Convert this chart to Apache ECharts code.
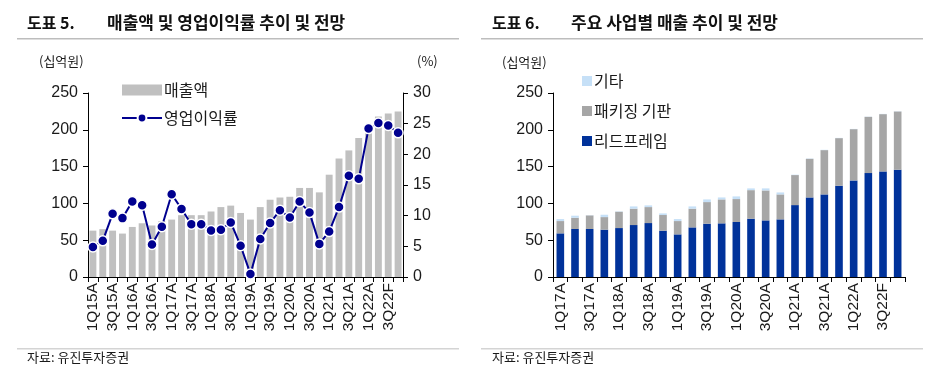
<!DOCTYPE html>
<html><head><meta charset="utf-8">
<script src="https://cdn.jsdelivr.net/npm/echarts@6/dist/echarts.min.js"></script>
<style>html,body{margin:0;padding:0;background:#fff}#c{width:945px;height:378px}</style>
</head><body><div id="c"></div>
<script>
// ---- Left chart data ----
const leftCats = ['1Q15A','2Q15A','3Q15A','4Q15A','1Q16A','2Q16A','3Q16A','4Q16A','1Q17A','2Q17A','3Q17A','4Q17A','1Q18A','2Q18A','3Q18A','4Q18A','1Q19A','2Q19A','3Q19A','4Q19A','1Q20A','2Q20A','3Q20A','4Q20A','1Q21A','2Q21A','3Q21A','4Q21A','1Q22A','2Q22A','3Q22F','4Q22F'];
const revenue = [63,65,63,59,68,73,70,76,78,84,84,84,89,95,97,87,78,95,105,108,109,121,121,115,139,161,172,189,201,218,222,225];
const opMargin = [4.9,5.9,10.3,9.6,12.3,11.7,5.3,8.2,13.5,11.1,8.6,8.6,7.6,7.7,8.9,5.1,0.5,6.2,8.8,10.9,9.7,12.3,10.5,5.4,7.4,11.4,16.5,16.0,24.2,25.1,24.7,23.5];
const leftTicks = [0,50,100,150,200,250];
const rightTicks = [0,5,10,15,20,25,30];

// ---- Right chart data ----
const rightCats = ['1Q17A','2Q17A','3Q17A','4Q17A','1Q18A','2Q18A','3Q18A','4Q18A','1Q19A','2Q19A','3Q19A','4Q19A','1Q20A','2Q20A','3Q20A','4Q20A','1Q21A','2Q21A','3Q21A','4Q21A','1Q22A','2Q22A','3Q22F','4Q22F'];
const leadframe = [59.3,65.2,65.2,64.3,66.5,70.6,73.3,62.9,57.9,67.4,72.4,72.9,74.7,79.2,76.9,78.3,97.7,108.1,112.2,124.0,131.2,141.2,143.4,145.7];
const packaging = [16.7,15.3,18.5,17.1,22.2,22.2,21.7,21.3,18.1,25.4,29.4,32.5,31.2,38.8,40.7,33.9,40.8,52.5,60.2,64.7,69.7,76.4,77.9,79.2];
const other = [2.7,2.8,0.3,3.2,0.5,3.1,2.3,2.2,2.7,3.1,3.6,2.7,3.6,2.4,2.8,2.7,0.5,0.4,0.4,0.3,0.3,0.3,0.3,0.3];

const FONT = "'Liberation Sans','Noto Sans CJK KR',sans-serif";
const KFONT = "'Noto Sans CJK KR',sans-serif";
const TXT = '#1a1a1a';

function yAxisBase(gridIndex, max, interval, position){
  return {
    type:'value', gridIndex, min:0, max, interval, position,
    axisLine:{show:true, lineStyle:{color:'#000', width:1}},
    axisTick:{show:true, length:5, lineStyle:{color:'#000'}},
    splitLine:{show:false},
    axisLabel:{color:TXT, fontSize:16, fontFamily:FONT, margin:10}
  };
}
function xAxisBase(gridIndex, data){
  return {
    type:'category', gridIndex, data,
    axisLine:{show:true, lineStyle:{color:'#000', width:1}},
    axisTick:{show:true, interval:0, length:5, lineStyle:{color:'#000'}},
    axisLabel:{rotate:90, interval:1, color:TXT, fontSize:15.5, fontFamily:FONT, margin:6}
  };
}

const chart = echarts.init(document.getElementById('c'), null, {renderer:'canvas'});
chart.setOption({
  animation:false,
  backgroundColor:'#fff',
  grid:[
    {left:88, top:93, width:315, height:184},
    {left:553, top:93, width:352, height:184}
  ],
  xAxis:[ xAxisBase(0, leftCats), xAxisBase(1, rightCats) ],
  yAxis:[
    yAxisBase(0, leftTicks[leftTicks.length-1], 50, 'left'),
    yAxisBase(0, rightTicks[rightTicks.length-1], 5, 'right'),
    yAxisBase(1, leftTicks[leftTicks.length-1], 50, 'left')
  ],
  legend:[
    {
      orient:'vertical', left:116, top:77, itemGap:12, itemWidth:40, itemHeight:11,
      textStyle:{fontSize:16, fontFamily:KFONT, color:TXT, padding:[0,0,0,-3]},
      data:[{name:'매출액', icon:'rect'}, {name:'영업이익률'}]
    },
    {
      orient:'vertical', left:577, top:68, itemGap:14, itemWidth:10, itemHeight:10,
      textStyle:{fontSize:16, fontFamily:KFONT, color:TXT, padding:[0,0,0,-3]},
      data:[{name:'기타', icon:'rect'}, {name:'패키징 기판', icon:'rect'}, {name:'리드프레임', icon:'rect'}]
    }
  ],
  series:[
    {name:'매출액', type:'bar', xAxisIndex:0, yAxisIndex:0, data:revenue, barCategoryGap:'30%',
     itemStyle:{color:'#c0c0c0'}},
    {name:'영업이익률', type:'line', xAxisIndex:0, yAxisIndex:1, data:opMargin,
     symbol:'circle', symbolSize:10, showAllSymbol:true, lineStyle:{color:'#00008f', width:2},
     itemStyle:{color:'#00008f', borderColor:'#fff', borderWidth:1.5}, z:5},
    {name:'리드프레임', type:'bar', stack:'s', xAxisIndex:1, yAxisIndex:2, data:leadframe, barCategoryGap:'48%',
     itemStyle:{color:'#00329a'}},
    {name:'패키징 기판', type:'bar', stack:'s', xAxisIndex:1, yAxisIndex:2, data:packaging,
     itemStyle:{color:'#a6a6a6'}},
    {name:'기타', type:'bar', stack:'s', xAxisIndex:1, yAxisIndex:2, data:other,
     itemStyle:{color:'#c6e0f7'}}
  ],
  graphic:[
    {type:'text', left:27, top:15, style:{text:'도표 5.', fontSize:16, fontWeight:'bold', fontFamily:KFONT, fill:'#111'}},
    {type:'text', left:107, top:14, style:{text:'매출액 및 영업이익률 추이 및 전망', fontSize:17, fontWeight:'bold', fontFamily:KFONT, fill:'#111'}},
    {type:'rect', shape:{x:17, y:38, width:442, height:1.5}, style:{fill:'#bdbdbd'}},
    {type:'text', left:492, top:15, style:{text:'도표 6.', fontSize:16, fontWeight:'bold', fontFamily:KFONT, fill:'#111'}},
    {type:'text', left:571, top:14, style:{text:'주요 사업별 매출 추이 및 전망', fontSize:17, fontWeight:'bold', fontFamily:KFONT, fill:'#111'}},
    {type:'rect', shape:{x:481, y:38, width:442, height:1.5}, style:{fill:'#bdbdbd'}},
    {type:'text', left:39, top:55, style:{text:'(십억원)', fontSize:13, fontFamily:KFONT, fill:TXT}},
    {type:'text', left:417, top:55, style:{text:'(%)', fontSize:13, fontFamily:KFONT, fill:TXT}},
    {type:'text', left:502, top:56, style:{text:'(십억원)', fontSize:13, fontFamily:KFONT, fill:TXT}},
    {type:'rect', shape:{x:17, y:348, width:442, height:1.5}, style:{fill:'#d4d4d4'}},
    {type:'rect', shape:{x:481, y:348, width:442, height:1.5}, style:{fill:'#d4d4d4'}},
    {type:'text', left:27, top:351, style:{text:'자료: 유진투자증권', fontSize:13, fontFamily:KFONT, fill:TXT}},
    {type:'text', left:492, top:351, style:{text:'자료: 유진투자증권', fontSize:13, fontFamily:KFONT, fill:TXT}}
  ]
});
</script>
</body></html>
